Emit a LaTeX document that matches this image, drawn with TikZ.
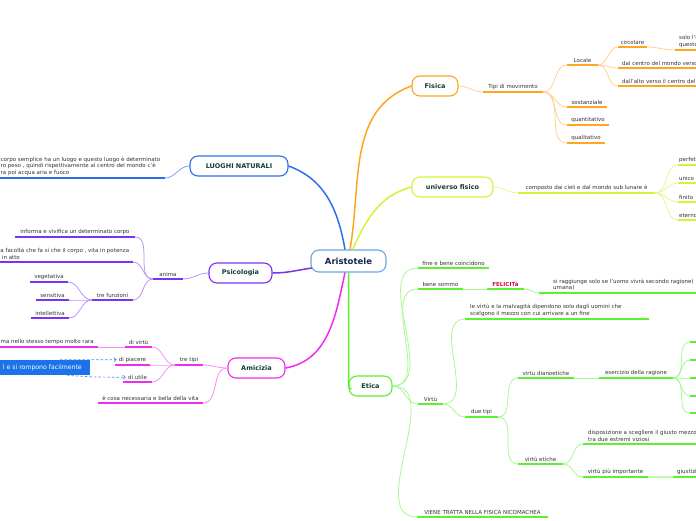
\documentclass[tikz,border=0pt]{standalone}
\usepackage{fontspec}
\setmainfont{DejaVu Sans}
\usetikzlibrary{calc,arrows.meta}
\definecolor{orC}{HTML}{FFA51F}
\definecolor{orT}{HTML}{FFD28A}
\definecolor{ylC}{HTML}{D4F23A}
\definecolor{ylT}{HTML}{E6F78F}
\definecolor{blC}{HTML}{2F6EEB}
\definecolor{blT}{HTML}{7EA7F3}
\definecolor{puC}{HTML}{7A33F5}
\definecolor{puT}{HTML}{B596FA}
\definecolor{mgC}{HTML}{EE2EEE}
\definecolor{mgT}{HTML}{F590F5}
\definecolor{grC}{HTML}{5EF02E}
\definecolor{grT}{HTML}{A9F791}
\definecolor{arisB}{HTML}{6AA6DD}
\definecolor{arisT}{HTML}{16254A}
\definecolor{mainT}{HTML}{123D33}
\definecolor{txt}{HTML}{333333}
\definecolor{boxB}{HTML}{1A73E8}
\definecolor{dashB}{HTML}{4A90E2}
\definecolor{feliR}{HTML}{D0103A}
% centered topic: name, xl, xr, y, colour, text
\newcommand\mmt[6]{%
  \coordinate (#1-l) at (#2,#4);
  \coordinate (#1-r) at (#3,#4);
  \draw[ul,#5] (#1-l) -- (#1-r);
  \node[lbl] (#1) at ($(#1-l)!0.5!(#1-r)+(0,-2.5)$) {#6};}
% left-aligned topic: name, xl, xr, y, colour, textx, text
\newcommand\mmtw[7]{%
  \coordinate (#1-l) at (#2,#4);
  \coordinate (#1-r) at (#3,#4);
  \draw[ul,#5] (#1-l) -- (#1-r);
  \node[lbl,anchor=south west] (#1) at (#6,#4-2.5) {#7};}
\begin{document}
\begin{tikzpicture}[x=1pt,y=-1pt,
  lbl/.style={font=\fontsize{5.5}{6.3}\selectfont, text=txt, inner sep=0pt, anchor=south, align=left},
  mainbox/.style={draw, fill=white, rounded corners=8pt, line width=1.1pt, font=\fontsize{6.5}{8}\selectfont\bfseries, text=mainT, minimum height=20pt, inner sep=0pt},
  ul/.style={line width=2pt},
  thinl/.style={line width=0.8pt},
  mainl/.style={line width=1.5pt},
  dasharrow/.style={dashB, line width=0.7pt, dash pattern=on 2.5pt off 2pt, -{Straight Barb[length=2.5pt,width=4pt]}, shorten >=2pt}]
\path[use as bounding box] (0,0) rectangle (696,520);
\clip (0,0) rectangle (696,520);
\fill[white] (0,0) rectangle (696,520);

% ---------- main nodes ----------
\node[mainbox, draw=arisB, minimum width=75pt, minimum height=22pt, font=\fontsize{8.5}{10}\selectfont\bfseries, text=arisT] (aris) at (348.5,261) {Aristotele};
\node[mainbox, draw=orC, minimum width=46pt] (fisica) at (435,86) {Fisica};
\node[mainbox, draw=ylC, minimum width=81pt] (univ) at (452.5,187) {universo fisico};
\node[mainbox, draw=blC, minimum width=98pt] (luoghi) at (239,166) {LUOGHI NATURALI};
\node[mainbox, draw=puC, minimum width=63pt] (psico) at (240.5,273) {Psicologia};
\node[mainbox, draw=mgC, minimum width=57pt] (amic) at (256.5,368) {Amicizia};
\node[mainbox, draw=grC, minimum width=43pt] (etica) at (370.5,386) {Etica};

% ---------- main connectors ----------
\draw[mainl,blC] ($(aris.north)+(-3.5,0)$) to[out=100,in=-20] (luoghi.east);
\draw[mainl,orC] ($(aris.north)+(1.5,0)$) to[out=80,in=200] (fisica.west);
\draw[mainl,ylC] ($(aris.north)+(4,0)$) to[out=65,in=195] (univ.west);
\draw[mainl,puC] ($(aris.west)+(1.5,7)$) to[out=188,in=0] (psico.east);
\draw[mainl,mgC] ($(aris.south)+(-3.5,0)$) to[out=-102,in=10] (amic.east);
\draw[mainl,grC] (aris.south) -- ($(aris.south)+(0,110)$) to[out=-90,in=180] ($(etica.west)+(3,3)$);

% ---------- Fisica ----------
\mmt{tipi}{483}{543}{92}{orC}{Tipi di movimento}
\mmt{locale}{567}{598}{65}{orC}{Locale}
\mmt{sost}{567}{607}{107}{orC}{sostanziale}
\mmt{quant}{567}{609}{125}{orC}{quantitativo}
\mmt{qual}{567}{605}{143}{orC}{qualitativo}
\mmt{circ}{618}{647}{47}{orC}{circolare}
\mmtw{solo}{675}{720}{50}{orC}{679}{solo l'u\\questo}
\mmtw{dalc}{618}{720}{68}{orC}{622}{dal centro del mondo verso}
\mmtw{dall}{618}{720}{86}{orC}{622}{dall'alto verso il centro del}
\draw[thinl,orT] (fisica.east) to[out=0,in=180] (tipi-l);
\foreach \c in {locale,sost,quant,qual}
  \draw[thinl,orT] (tipi-r) to[out=0,in=180] (\c-l);
\foreach \c in {circ,dalc,dall}
  \draw[thinl,orT] (locale-r) to[out=0,in=180] (\c-l);
\draw[thinl,orT] (circ-r) to[out=0,in=180] (solo-l);

% ---------- universo fisico ----------
\mmt{comp}{518}{655}{193}{ylC}{composto dai cieli e dal mondo sub lunare è}
\mmtw{perf}{678}{720}{165}{ylC}{679}{perfetto}
\mmtw{unico}{678}{720}{183}{ylC}{679}{unico}
\mmtw{finito}{678}{720}{202}{ylC}{679}{finito}
\mmtw{eterno}{678}{720}{220}{ylC}{679}{eterno}
\draw[thinl,ylT] (univ.east) to[out=0,in=180] (comp-l);
\foreach \c in {perf,unico,finito,eterno}
  \draw[thinl,ylT] (comp-r) to[out=0,in=180] (\c-l);

% ---------- LUOGHI NATURALI ----------
\mmtw{ogni}{-5}{165}{178}{blC}{0.5}{corpo semplice ha un luogo e questo luogo è determinato\\ro peso , quindi rispettivamente al centro del mondo c'è\\ra poi acqua aria e fuoco}
\draw[thinl,blT] (ogni-r) to[out=0,in=180] (luoghi.west);

% ---------- Psicologia ----------
\mmt{anima}{153}{183}{279}{puC}{anima}
\mmt{inf}{15}{135}{237}{puC}{informa e vivifica un determinato corpo}
\mmtw{fac}{-5}{133}{262}{puC}{0.3}{a facoltà che fa si che il corpo , vita in potenza\\\hspace*{1.5pt}in atto}
\mmt{tref}{92}{133}{300}{puC}{tre funzioni}
\mmt{veg}{30}{68}{282}{puC}{vegetativa}
\mmt{sens}{36}{69}{300}{puC}{sensitiva}
\mmt{intel}{31}{69}{318}{puC}{intellettiva}
\draw[thinl,puT] (psico.west) to[out=180,in=0] (anima-r);
\foreach \c in {inf,fac,tref}
  \draw[thinl,puT] (anima-l) to[out=180,in=0] (\c-r);
\foreach \c in {veg,sens,intel}
  \draw[thinl,puT] (tref-l) to[out=180,in=0] (\c-r);

% ---------- Amicizia ----------
\mmt{tretipi}{175}{203}{365}{mgC}{tre tipi}
\mmt{virtu}{125}{152}{347}{mgC}{di virtù}
\mmtw{rara}{-5}{98}{347}{mgC}{0.5}{ma nello stesso tempo molto rara}
\mmt{piac}{115}{150}{365}{mgC}{di piacere}
\mmt{utile}{123}{152}{382}{mgC}{di utile}
\mmt{cosa}{98}{203}{403}{mgC}{è cosa necessaria e bella della vita}
\draw[thinl,mgT] (amic.west) to[out=180,in=0] (tretipi-r);
\foreach \c in {virtu,piac,utile}
  \draw[thinl,mgT] (tretipi-l) to[out=180,in=0] (\c-r);
\draw[thinl,mgT] (virtu-l) -- (rara-r);
\draw[thinl,mgT] (amic.west) to[out=180,in=0] (cosa-r);
\node[fill=boxB, text=white, font=\fontsize{6.2}{7}\selectfont, anchor=east, minimum height=15pt, inner xsep=8pt, inner ysep=0pt] (bbox) at (90,367.5) {l e si rompono facilmente};
\draw[dasharrow] ([xshift=-30pt]bbox.north east) to[out=0,in=180] (piac.west);
\draw[dasharrow] ([xshift=-23pt]bbox.south east) to[out=-5,in=180] (utile.west);

% ---------- Etica ----------
\mmt{fine}{418}{489}{268}{grC}{fine e bene coincidono}
\mmt{bene}{418}{463}{289}{grC}{bene sommo}
\coordinate (feli-l) at (487,289);
\coordinate (feli-r) at (524,289);
\draw[ul,grC] (feli-l) -- (feli-r);
\node[lbl, text=feliR, font=\fontsize{5.5}{6.3}\selectfont\bfseries] (feli) at ($(feli-l)!0.5!(feli-r)+(0,-2.5)$) {FELICITà};
\mmtw{ragg}{539}{720}{293}{grC}{553}{si raggiunge solo se l'uomo vivrà secondo ragione(\\umana)}
\mmt{virtu2}{418}{443}{404}{grC}{Virtù}
\mmtw{malv}{465}{649}{319}{grC}{470}{le virtù e la malvagità dipendono solo dagli uomini che\\scelgono il mezzo con cui arrivare a un fine}
\mmt{duetipi}{465}{498}{417}{grC}{due tipi}
\mmt{dian}{518}{574}{378}{grC}{virtu dianoetiche}
\mmt{eserc}{599}{673}{378}{grC}{esercizio della ragione}
\foreach \i/\y in {1/342,2/360,3/378,4/396,5/413}{
  \coordinate (st\i-l) at (690,\y);
  \coordinate (st\i-r) at (720,\y);
  \draw[ul,grC] (st\i-l) -- (st\i-r);
  \draw[thinl,grT] (eserc-r) to[out=0,in=180] (st\i-l);}
\mmt{etiche}{518}{563}{464}{grC}{virtù etiche}
\mmtw{disp}{583}{720}{444}{grC}{588}{disposizione a scegliere il giusto mezzo\\tra due estremi viziosi}
\mmt{piu}{583}{648}{477}{grC}{virtù più importante}
\mmtw{giust}{673}{720}{477}{grC}{677}{giustizia}
\mmt{viene}{417}{548}{517}{grC}{VIENE TRATTA NELLA FISICA NICOMACHEA}
\foreach \c in {fine,bene,virtu2,viene}
  \draw[thinl,grT] (etica.east) to[out=0,in=180] (\c-l);
\draw[thinl,grT] (bene-r) -- (feli-l);
\draw[thinl,grT] (feli-r) to[out=0,in=180] (ragg-l);
\foreach \c in {malv,duetipi}
  \draw[thinl,grT] (virtu2-r) to[out=0,in=180] (\c-l);
\foreach \c in {dian,etiche}
  \draw[thinl,grT] (duetipi-r) to[out=0,in=180] (\c-l);
\draw[thinl,grT] (dian-r) -- (eserc-l);
\foreach \c in {disp,piu}
  \draw[thinl,grT] (etiche-r) to[out=0,in=180] (\c-l);
\draw[line width=1.6pt,grT!70] (piu-r) -- (giust-l);
\end{tikzpicture}
\end{document}
